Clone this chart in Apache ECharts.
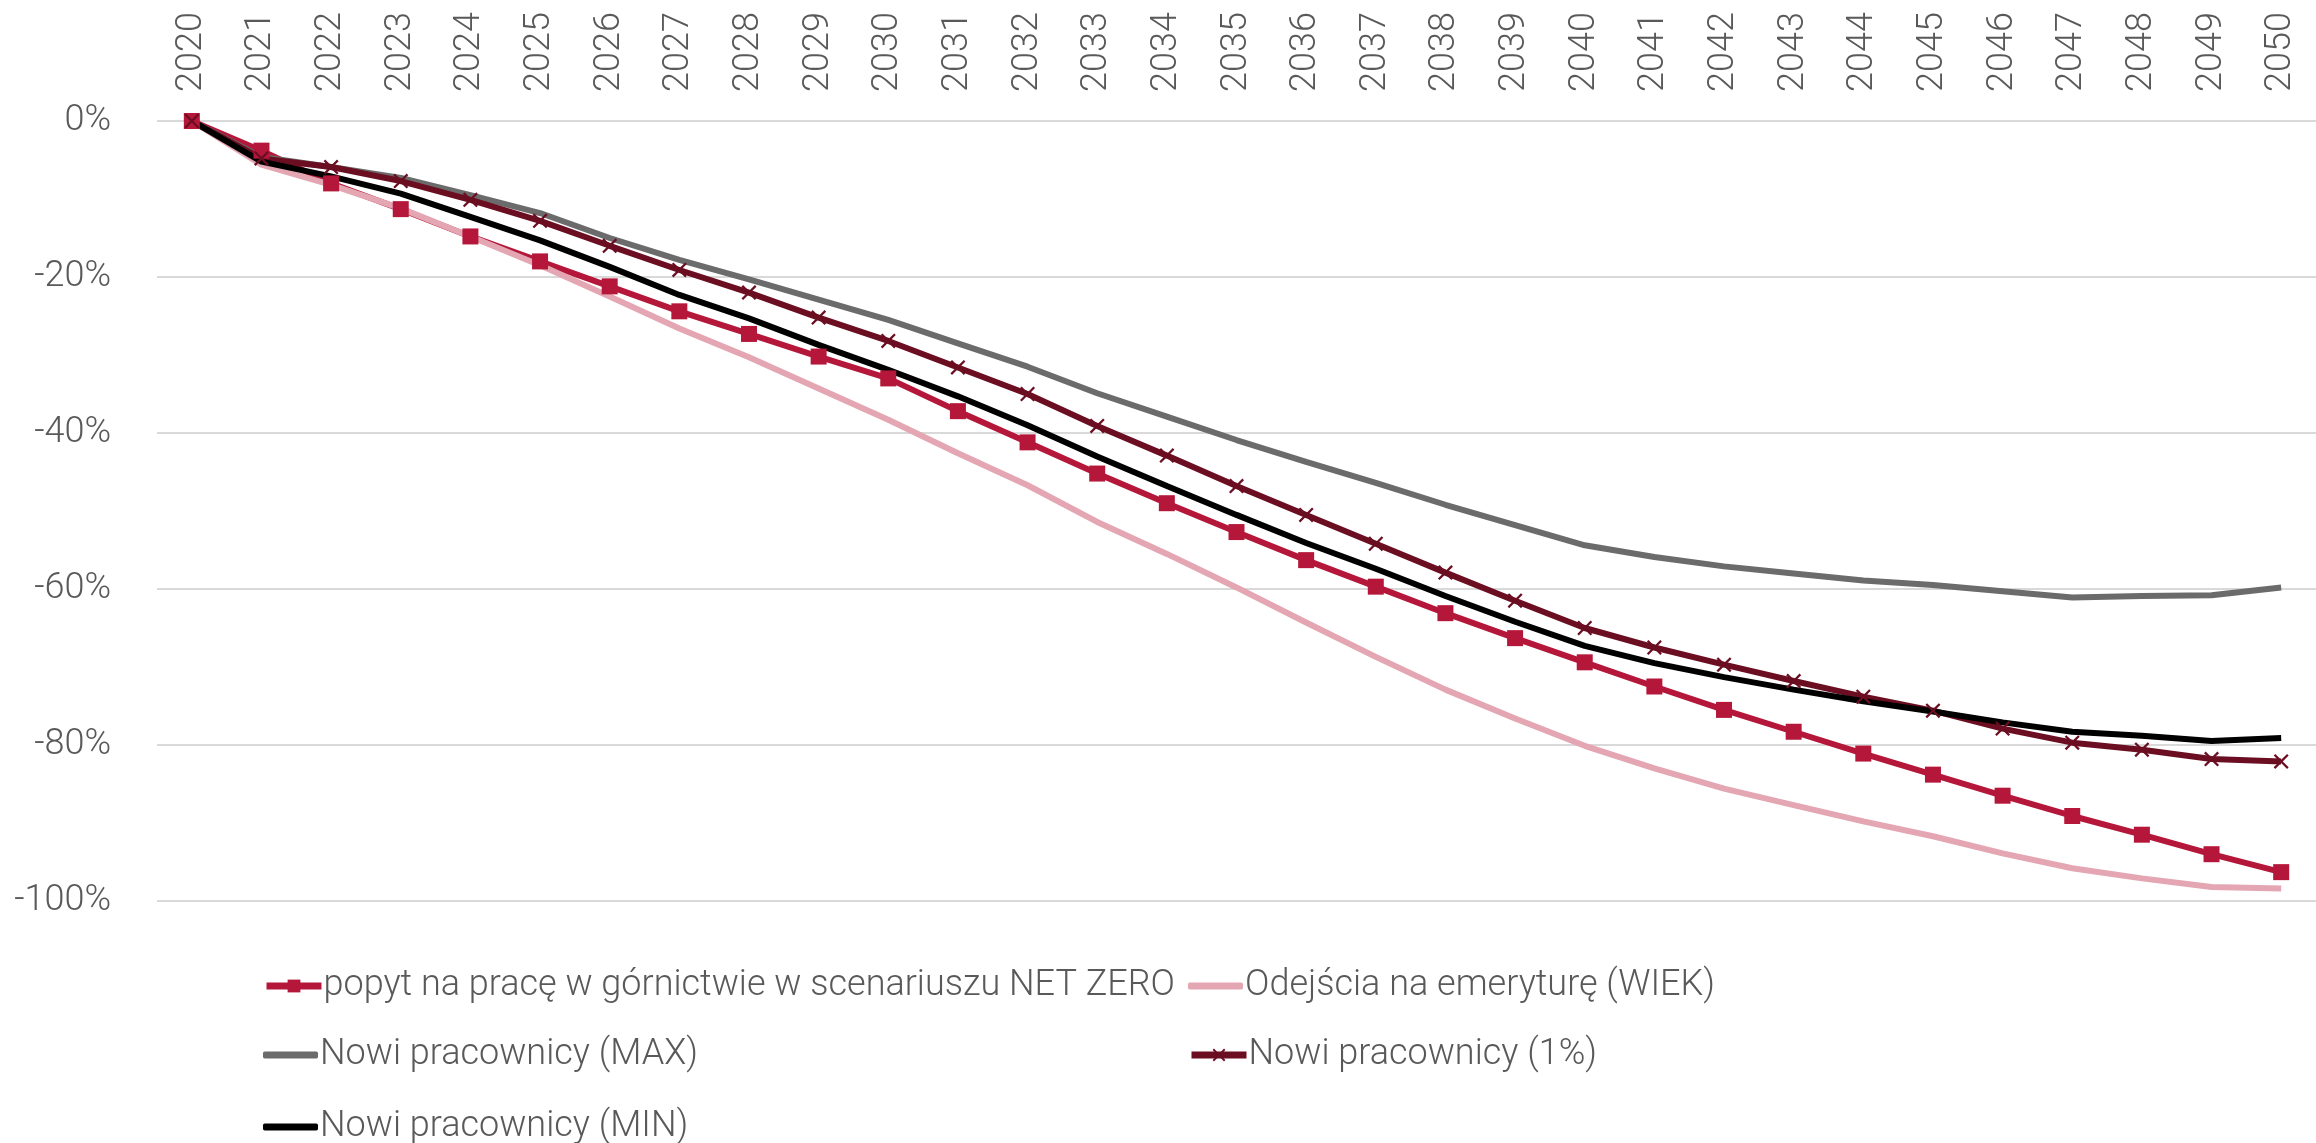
<!DOCTYPE html>
<html>
<head>
<meta charset="utf-8">
<script src="https://cdn.jsdelivr.net/npm/echarts@6/dist/echarts.min.js"></script>
<style>
  html, body { margin: 0; padding: 0; background: #fff; }
  #chart { width: 2316px; height: 1143px; }
</style>
</head>
<body>
<div id="chart"></div>
<script>
// lata na osi X
const years = [];
for (let y = 2020; y <= 2050; y++) years.push(String(y));

// wartości (%)
const popytNetZero = [0, -3.8, -8.0, -11.3, -14.8, -18.0, -21.2, -24.4, -27.3, -30.2, -33.0, -37.2, -41.2, -45.2, -49.0, -52.7, -56.3, -59.7, -63.1, -66.3, -69.4, -72.5, -75.5, -78.3, -81.1, -83.8, -86.5, -89.1, -91.5, -94.0, -96.3];
const odejsciaWiek = [0, -5.6, -8.2, -11.2, -14.8, -18.5, -22.5, -26.6, -30.3, -34.3, -38.3, -42.6, -46.7, -51.4, -55.5, -59.8, -64.3, -68.7, -72.9, -76.6, -80.1, -83.0, -85.6, -87.7, -89.8, -91.7, -93.9, -95.8, -97.1, -98.2, -98.4];
const nowiMax = [0, -4.6, -5.9, -7.3, -9.5, -11.8, -15.0, -17.8, -20.3, -22.9, -25.5, -28.5, -31.5, -34.9, -37.9, -40.9, -43.7, -46.4, -49.2, -51.8, -54.4, -55.9, -57.1, -58.0, -58.9, -59.5, -60.3, -61.1, -60.9, -60.8, -59.8];
const nowi1proc = [0, -4.8, -5.9, -7.7, -10.1, -12.8, -16.0, -19.1, -22.0, -25.2, -28.2, -31.6, -35.0, -39.1, -42.9, -46.8, -50.5, -54.2, -57.9, -61.5, -65.0, -67.5, -69.7, -71.8, -73.8, -75.6, -77.9, -79.7, -80.6, -81.8, -82.1];
const nowiMin = [0, -5.2, -7.1, -9.3, -12.3, -15.3, -18.7, -22.3, -25.3, -28.7, -31.9, -35.3, -39.0, -43.0, -46.8, -50.5, -54.1, -57.4, -60.9, -64.2, -67.3, -69.5, -71.3, -72.9, -74.4, -75.7, -77.1, -78.3, -78.8, -79.5, -79.1];

const names = [
    'popyt na pracę w górnictwie w scenariuszu NET ZERO',
    'Odejścia na emeryturę (WIEK)',
    'Nowi pracownicy (MAX)',
    'Nowi pracownicy (1%)',
    'Nowi pracownicy (MIN)'
];

const textColor = '#595959';
const font = { fontFamily: 'Roboto', fontWeight: 300, fontSize: 36, color: textColor };
const crossPath = 'path://M0,1.5L1.5,0L7,5.5L12.5,0L14,1.5L8.5,7L14,12.5L12.5,14L7,8.5L1.5,14L0,12.5L5.5,7Z';

const chart = echarts.init(document.getElementById('chart'));

// legenda: osobny komponent dla każdej pozycji (układ dwóch kolumn)
function legendAt(name, left, top, plain) {
    return {
        data: [plain ? { name: name, icon: 'roundRect' } : name],
        left: left,
        top: top,
        itemWidth: 55,
        itemHeight: plain ? 7 : 16,
        selectedMode: false,
        lineStyle: { width: 7 },
        textStyle: Object.assign({}, font, { padding: [0, 0, 0, -3] })
    };
}

function lineSeries(name, data, color, extra) {
    return Object.assign({
        name: name,
        type: 'line',
        data: data,
        symbol: 'none',
        lineStyle: { color: color, width: 6 },
        itemStyle: { color: color },
        animation: false
    }, extra || {});
}

const option = {
    backgroundColor: '#fff',
    textStyle: { fontFamily: 'Roboto' },
    grid: {
        left: 157,
        top: 121,
        width: 2172,
        height: 780
    },
    legend: [
        legendAt(names[0], 258, 963),
        legendAt(names[1], 1183, 963, true),
        legendAt(names[2], 258, 1032, true),
        legendAt(names[3], 1183, 1032),
        legendAt(names[4], 258, 1104, true)
    ],
    xAxis: {
        type: 'category',
        position: 'top',
        data: years,
        boundaryGap: true,
        axisLine: { show: false },
        axisTick: { show: false },
        axisLabel: Object.assign({}, font, { rotate: 90, margin: 29, interval: 0 })
    },
    yAxis: {
        type: 'value',
        min: -100,
        max: 0,
        interval: 20,
        axisLine: { show: false },
        axisTick: { show: false },
        axisLabel: Object.assign({}, font, { formatter: '{value}%', margin: 46 }),
        splitLine: { lineStyle: { color: '#d9d9d9', width: 2 } }
    },
    series: [
        lineSeries(names[0], popytNetZero, '#B5173A', { symbol: 'rect', symbolSize: 16 }),
        lineSeries(names[1], odejsciaWiek, '#E3A6B2'),
        lineSeries(names[2], nowiMax, '#6B6B6B'),
        lineSeries(names[3], nowi1proc, '#6B0E22', { symbol: crossPath, symbolSize: 15 }),
        lineSeries(names[4], nowiMin, '#000000')
    ]
};
chart.setOption(option);

window.addEventListener('resize', () => {
    setTimeout(() => {
        chart.resize();
    }, 10);
});
</script>
</body>
</html>
